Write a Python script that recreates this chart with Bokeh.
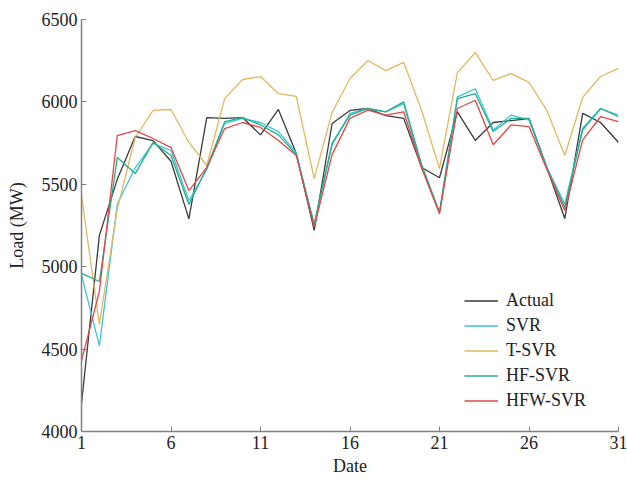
from bokeh.plotting import figure
from bokeh.models import Range1d, FixedTicker, Legend, LegendItem
from bokeh.embed import file_html
from bokeh.resources import INLINE

days = list(range(1, 32))
actual = [4170, 5190, 5530, 5790, 5765, 5640, 5290, 5905, 5900, 5905, 5800, 5954, 5687, 5220, 5869,
          5948, 5960, 5917, 5900, 5602, 5540, 5940, 5766, 5875, 5887, 5899, 5600, 5292, 5930, 5875, 5754]
svr = [4950, 4520, 5380, 5600, 5748, 5705, 5400, 5590, 5870, 5900, 5875, 5820, 5690, 5250, 5740,
       5930, 5960, 5940, 5990, 5600, 5330, 6030, 6080, 5830, 5920, 5890, 5600, 5380, 5840, 5960, 5920]
tsvr = [5432, 4650, 5350, 5784, 5948, 5954, 5754, 5614, 6020, 6136, 6154, 6050, 6033, 5535, 5936,
        6142, 6251, 6190, 6240, 5948, 5596, 6178, 6300, 6130, 6172, 6118, 5948, 5675, 6027, 6154, 6203]
hfsvr = [4960, 4910, 5663, 5565, 5754, 5675, 5377, 5600, 5880, 5905, 5860, 5800, 5680, 5260, 5750,
         5920, 5960, 5940, 6000, 5620, 5330, 6020, 6050, 5820, 5900, 5900, 5600, 5360, 5830, 5960, 5910]
hfwsvr = [4430, 4850, 5796, 5826, 5778, 5723, 5462, 5603, 5838, 5875, 5845, 5766, 5675, 5240, 5680,
          5900, 5950, 5920, 5940, 5600, 5320, 5960, 6010, 5740, 5860, 5850, 5590, 5340, 5770, 5910, 5880]

series_names = ["Actual", "SVR", "T-SVR", "HF-SVR", "HFW-SVR"]
series_vals = [actual, svr, tsvr, hfsvr, hfwsvr]
colors = ["#3a3a3a", "#3cc3dc", "#e2b860", "#22b08c", "#e04848"]

x_ticks = [1, 6, 11, 16, 21, 26, 31]
y_ticks = [4000, 4500, 5000, 5500, 6000, 6500]

FONT = "Liberation Serif"

p = figure(width=627, height=479, output_backend="svg", toolbar_location=None,
           x_range=Range1d(1, 31), y_range=Range1d(4000, 6500),
           min_border_left=81, min_border_right=9, min_border_top=19, min_border_bottom=48)
p.outline_line_color = None
p.xgrid.visible = False
p.ygrid.visible = False

items = []
for name, vals, c in zip(series_names, series_vals, colors):
    r = p.line(days, vals, line_color=c, line_width=1.3)
    items.append(LegendItem(label=name, renderers=[r]))

for ax in (p.xaxis[0], p.yaxis[0]):
    ax.axis_line_color = "#808080"
    ax.axis_line_width = 1.5
    ax.major_tick_line_color = "#808080"
    ax.major_tick_in = 5
    ax.major_tick_out = 0
    ax.minor_tick_line_color = None
    ax.major_label_text_font = FONT
    ax.major_label_text_font_size = "18px"
    ax.major_label_text_color = "#222222"
    ax.axis_label_text_font = FONT
    ax.axis_label_text_font_size = "18px"
    ax.axis_label_text_font_style = "normal"
    ax.axis_label_text_color = "#222222"
    ax.major_label_standoff = 4

p.xaxis[0].ticker = FixedTicker(ticks=x_ticks)
p.yaxis[0].ticker = FixedTicker(ticks=y_ticks)
p.xaxis[0].axis_label = "Date"
p.yaxis[0].axis_label = "Load (MW)"
p.xaxis[0].axis_label_standoff = 4
p.yaxis[0].axis_label_standoff = 12

legend = Legend(items=items, location=(383, 18), border_line_color=None,
                background_fill_alpha=0, padding=5, margin=0, spacing=0,
                glyph_width=34, glyph_height=25, label_height=25, label_standoff=8,
                label_text_font=FONT, label_text_font_size="18px", label_text_color="#222222")
p.add_layout(legend, "center")

open("out.html", "w").write(file_html(p, INLINE))
